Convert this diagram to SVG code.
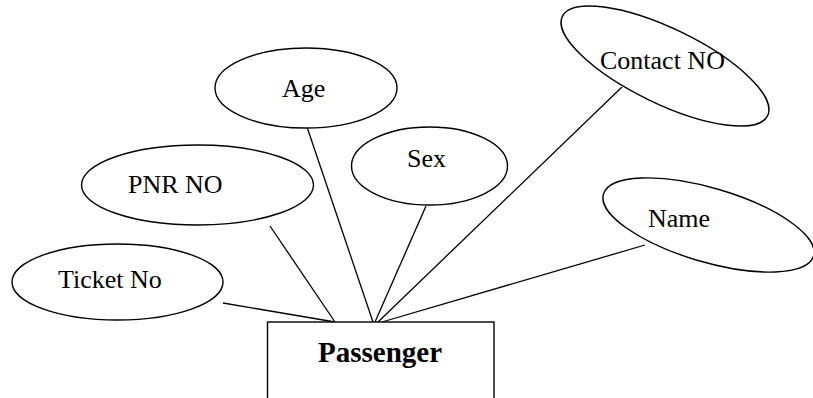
<svg xmlns="http://www.w3.org/2000/svg" width="813" height="398" viewBox="0 0 813 398">
<style>
.attr{fill:#fff;stroke:#000;stroke-width:1.4}
.ent{fill:#fff;stroke:#000;stroke-width:1.4}
.lbl{font-family:"Liberation Serif","Times New Roman",serif;font-size:26px;fill:#000}
.ttl{font-family:"Liberation Serif","Times New Roman",serif;font-size:29px;font-weight:bold;fill:#000}
.conn line{stroke:#000;stroke-width:1.3}
</style>
<rect width="813" height="398" fill="#fff"/>
<g class="conn" id="connectors">
<line x1="223" y1="303" x2="335" y2="322"/>
<line x1="270" y1="226" x2="335" y2="322"/>
<line x1="307" y1="127" x2="373" y2="322"/>
<line x1="426" y1="206" x2="375" y2="322"/>
<line x1="622" y1="87" x2="378" y2="322"/>
<line x1="645" y1="245" x2="382" y2="322"/>
</g>
<g id="node-ticket">
<ellipse class="attr" cx="117.5" cy="282" rx="105.5" ry="38"/>
<text class="lbl" x="58" y="288">Ticket No</text>
</g>
<g id="node-pnr">
<ellipse class="attr" cx="197.5" cy="185" rx="116" ry="40"/>
<text class="lbl" x="128" y="193">PNR NO</text>
</g>
<g id="node-age">
<ellipse class="attr" cx="306" cy="88" rx="91" ry="40"/>
<text class="lbl" x="282" y="97">Age</text>
</g>
<g id="node-sex">
<ellipse class="attr" cx="429.5" cy="166" rx="78" ry="39"/>
<text class="lbl" x="407" y="167">Sex</text>
</g>
<g id="node-contact">
<ellipse class="attr" cx="665" cy="66" rx="114" ry="37.5" transform="rotate(25.8 665 66)"/>
<text class="lbl" x="600" y="69">Contact NO</text>
</g>
<g id="node-name">
<ellipse class="attr" cx="708.5" cy="225" rx="109.5" ry="37" transform="rotate(16.4 708.5 225)"/>
<text class="lbl" x="648" y="227">Name</text>
</g>
<g id="node-passenger">
<rect class="ent" x="267.5" y="322" width="226.5" height="90"/>
<text class="ttl" x="318" y="362">Passenger</text>
</g>
</svg>
